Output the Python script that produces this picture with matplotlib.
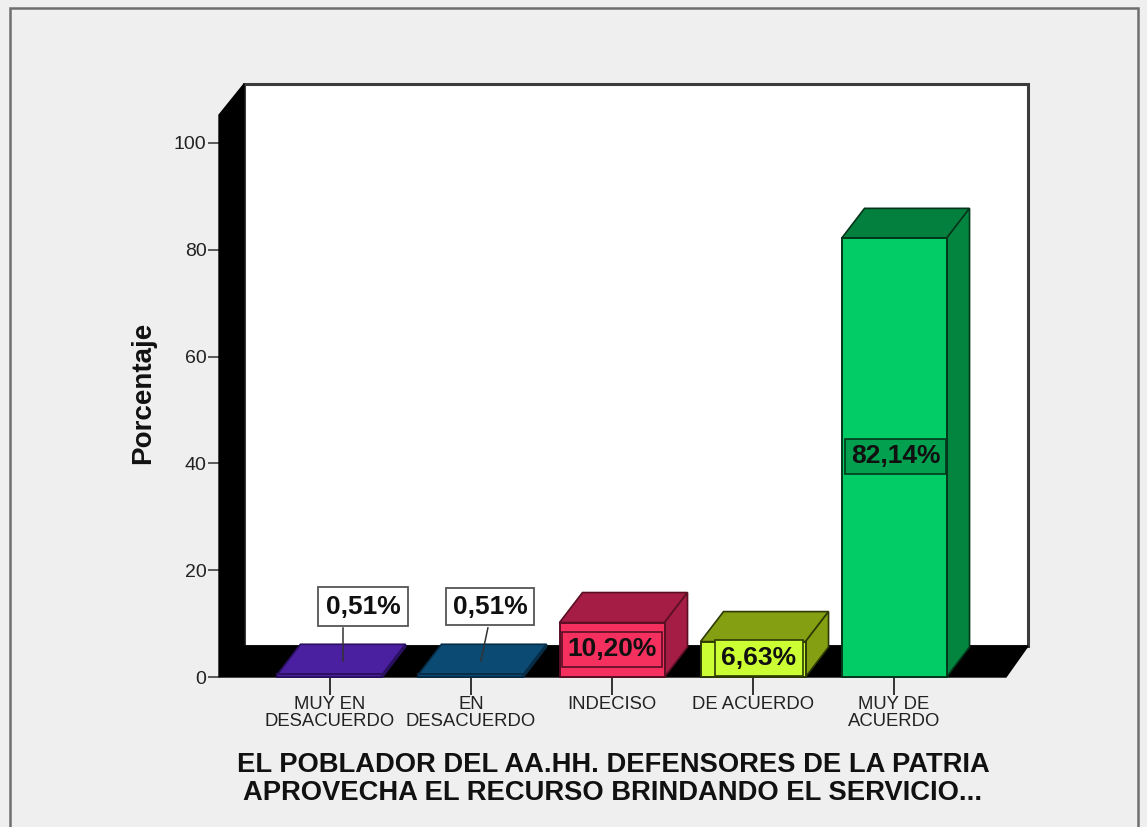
import matplotlib
matplotlib.use('Agg')
import matplotlib.pyplot as plt
from matplotlib.patches import Polygon, Rectangle

plt.rcParams['font.family'] = ['Liberation Sans', 'DejaVu Sans']

categorias = ['MUY EN\nDESACUERDO', 'EN\nDESACUERDO', 'INDECISO', 'DE ACUERDO', 'MUY DE\nACUERDO']
porcentajes = [0.51, 0.51, 10.20, 6.63, 82.14]
etiquetas = ['0,51%', '0,51%', '10,20%', '6,63%', '82,14%']
y_ticks = [0, 20, 40, 60, 80, 100]

col_frente = ['#4A1FA0', '#0B4A72', '#F5305F', '#CCFF33', '#02CC66']
col_lado = ['#3A1688', '#083C5E', '#A51C45', '#84A012', '#03853F']
col_arriba = ['#4A1FA0', '#0B4A72', '#A51C45', '#84A012', '#03803D']
col_borde = ['#2A1060', '#062C46', '#5A0F25', '#2E3A05', '#04361B']

W, H = 1147, 827
fondo = '#EFEFEF'

fig = plt.figure(figsize=(W/100, H/100), dpi=100, facecolor=fondo)
# marco exterior
fig.add_artist(Rectangle((10/W, -0.02), 1128/W, 1-8/H+0.02, transform=fig.transFigure,
                         fill=False, ec='#6E6E6E', lw=1.8))

ax = fig.add_axes([219/W, 1-677/H, 787/W, 562/H])
ax.set_xlim(-0.787, 4.794)
ax.set_ylim(0, 105.24)
ax.patch.set_visible(False)
for s in ax.spines.values():
    s.set_visible(False)

# profundidad 3D en unidades de datos
dx_izq, dx_der, dy_pared = 25/141, 22/141, 31/5.34
dx_barra, dy_barra = 23/141, 30/5.34
ancho = 105/141
x0, x1 = ax.get_xlim()
y1 = ax.get_ylim()[1]


def poligono(puntos, color, borde, lw=1.2, z=1):
    ax.add_patch(Polygon(puntos, closed=True, fc=color, ec=borde, lw=lw,
                         clip_on=False, zorder=z, joinstyle='miter'))


# pared del fondo, pared izquierda y piso
poligono([(x0+dx_izq, dy_pared), (x1+dx_der, dy_pared), (x1+dx_der, y1+dy_pared),
          (x0+dx_izq, y1+dy_pared)], 'white', '#3C3C3C', 2.2, 1)
poligono([(x0, 0), (x0+dx_izq, dy_pared), (x0+dx_izq, y1+dy_pared), (x0, y1)], 'black', 'black', 1, 2)
poligono([(x0, 0), (x1, 0), (x1+dx_der, dy_pared), (x0+dx_izq, dy_pared)], 'black', 'black', 1, 2)

for i, v in enumerate(porcentajes):
    a, b = i-ancho/2, i+ancho/2
    poligono([(a, v), (b, v), (b+dx_barra, v+dy_barra), (a+dx_barra, v+dy_barra)], col_arriba[i], col_borde[i], 1.2, 3)
    poligono([(b, 0), (b+dx_barra, dy_barra), (b+dx_barra, v+dy_barra), (b, v)], col_lado[i], col_borde[i], 1.2, 3)
    ax.bar(i, v, width=ancho, color=col_frente[i], edgecolor=col_borde[i], linewidth=1.4, zorder=4, clip_on=False)

# etiquetas de valores
fuente = dict(fontsize=19, fontweight='bold', color='#101010', ha='center', va='center', zorder=6)

ax.plot([0.09, 0.09], [3, 9.2], color='#333333', lw=1.1, zorder=5)
ax.plot([1.07, 1.12], [3, 9.2], color='#333333', lw=1.1, zorder=5)
ax.text(0.234, 13.2, etiquetas[0], bbox=dict(boxstyle='square,pad=0.28', fc='white', ec='#555555', lw=1.3), **fuente)
ax.text(1.135, 13.2, etiquetas[1], bbox=dict(boxstyle='square,pad=0.24', fc='white', ec='#555555', lw=1.3), **fuente)
ax.text(2.0, 5.2, etiquetas[2], bbox=dict(boxstyle='square,pad=0.2', fc=col_frente[2], ec=col_borde[2], lw=1.2), **fuente)
ax.text(3.04, 3.56, etiquetas[3], bbox=dict(boxstyle='square,pad=0.24', fc=col_frente[3], ec=col_borde[3], lw=1.2), **fuente)
ax.text(4.01, 41.3, etiquetas[4], bbox=dict(boxstyle='square,pad=0.22', fc='#03A050', ec=col_borde[4], lw=1.2), **fuente)

ax.set_yticks(y_ticks)
ax.set_xticks(range(len(categorias)))
ax.set_xticklabels(categorias, fontsize=13.3, color='#222222', linespacing=1.0)
ax.tick_params(axis='y', length=8, width=1.1, color='#333333', labelsize=14, labelcolor='#222222', pad=1)
ax.tick_params(axis='x', length=13, width=1.4, color='#333333', pad=1)

fig.text(143/W, 1-393/H, 'Porcentaje', rotation=90, fontsize=20, fontweight='bold',
         color='#111111', ha='center', va='center')
fig.text(613/W, 1-779/H, 'EL POBLADOR DEL AA.HH. DEFENSORES DE LA PATRIA\nAPROVECHA EL RECURSO BRINDANDO EL SERVICIO...',
         fontsize=19.7, fontweight='bold', color='#111111', ha='center', va='center', linespacing=1.12)

fig.savefig('out.png', dpi=100, facecolor=fondo)
